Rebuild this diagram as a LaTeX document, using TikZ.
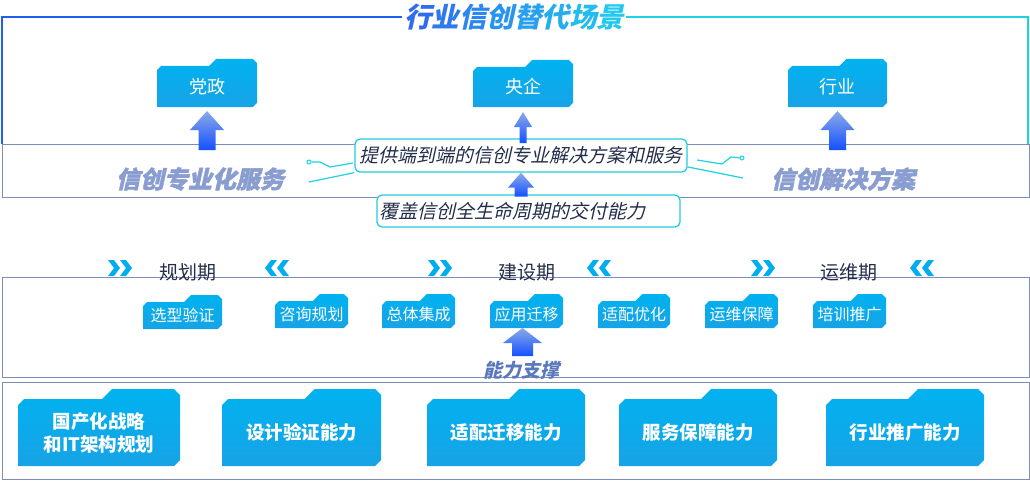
\documentclass[tikz,border=0pt]{standalone}
\usepackage{fontspec}
\setmainfont{Noto Sans CJK SC}
\newfontfamily\cjk{Noto Sans CJK SC}
\newfontfamily\cjkit{Noto Sans CJK SC}[FakeSlant=0.22]
\newfontfamily\cjkheavy{Noto Sans CJK SC}[FakeSlant=0.22, BoldFeatures={FakeBold=1.8}]
\usetikzlibrary{calc}
\definecolor{fA}{HTML}{00B2F0}
\definecolor{fB}{HTML}{17A3E6}
\definecolor{arA}{HTML}{8AAAE8}
\definecolor{arB}{HTML}{1450FF}
\definecolor{frameblue}{HTML}{1F5EF5}
\definecolor{framecyan}{HTML}{1DD3E3}
\definecolor{bandc}{HTML}{7E8DB5}
\definecolor{calc}{HTML}{22CCE0}
\definecolor{chev}{HTML}{00AEEF}
\definecolor{darktxt}{HTML}{242E4A}
\definecolor{graytxt}{HTML}{8A9DD0}
\definecolor{supp}{HTML}{5A78BC}
\definecolor{tA}{HTML}{2F6CF0}
\definecolor{tB}{HTML}{22C8EE}
\tikzset{
  fold/.style={top color=fA, bottom color=fB, draw=none},
  band/.style={draw=bandc, line width=0.9pt},
  callout/.style={draw=calc, line width=1.3pt, rounded corners=5pt, fill=white, inner sep=2pt, text=darktxt},
  circ/.style={draw=framecyan, line width=1.2pt},
  dotc/.style={circle, draw=framecyan, fill=white, line width=1pt, inner sep=0pt, minimum size=4pt},
  arr/.style={top color=arA, bottom color=arB, draw=none},
  phase/.style={text=darktxt, font=\cjk\fontsize{19}{21}\selectfont},
  big/.style={text=graytxt, font=\cjkheavy\bfseries\fontsize{24}{26}\selectfont},
}
% folder: #1 name, #2 x1, #3 y1 (tab top), #4 x2, #5 y2, #6 tab height, #7 font, #8 text
\newcommand\mkfolder[8]{%
  \pgfmathsetmacro\fxa{#2+0.52*(#4-#2)}%
  \pgfmathsetmacro\fyb{#3+#6}%
  \pgfmathsetmacro\fc{0.6*#6}%
  \shade[fold] (#2,\fyb+\fc) -- (#2+\fc,\fyb) -- (\fxa,\fyb) -- (\fxa+#6,#3) -- (#4-\fc,#3) -- (#4,#3+\fc) -- (#4,#5-\fc) -- (#4-\fc,#5) -- (#2,#5) -- cycle;
  \coordinate (#1-b) at ({(#2+#4)/2},#5);
  \node[text=white, font=#7, align=center, inner sep=0pt] (#1) at ({(#2+#4)/2},{(\fyb+#5)/2}) {#8};
}
% block arrow: #1 anchor, #2 tip offset, #3 length, #4 head half, #5 shaft half, #6 head length
\newcommand\blockup[6]{%
  \begin{scope}[shift={#1}]
  \shade[arr] (0,#2) -- (#4,#2+#6) -- (#5,#2+#6) -- (#5,#2+#3) -- (-#5,#2+#3) -- (-#5,#2+#6) -- (-#4,#2+#6) -- cycle;
  \end{scope}}
\newcommand\chevR[2]{%
  \foreach \k in {0,12}{\fill[chev] (#1+\k,#2-8) -- (#1+\k+6,#2-8) -- (#1+\k+12,#2) -- (#1+\k+6,#2+8) -- (#1+\k,#2+8) -- (#1+\k+6,#2) -- cycle;}}
\newcommand\chevL[2]{%
  \foreach \k in {0,12}{\fill[chev] (#1+\k+12,#2-8) -- (#1+\k+6,#2-8) -- (#1+\k,#2) -- (#1+\k+6,#2+8) -- (#1+\k+12,#2+8) -- (#1+\k+6,#2) -- cycle;}}
\begin{document}
\begin{tikzpicture}[x=1pt,y=-1pt]
\useasboundingbox[fill=white] (0,0) rectangle (1030,487);

% ---- title and frame
\node[font=\cjkit\bfseries\fontsize{27.5}{30}\selectfont, inner sep=2pt] (title) at (514,17)
 {\textcolor{tA}{行}\textcolor{tA!86!tB}{业}\textcolor{tA!71!tB}{信}\textcolor{tA!57!tB}{创}\textcolor{tA!43!tB}{替}\textcolor{tA!29!tB}{代}\textcolor{tA!14!tB}{场}\textcolor{tB}{景}};
\coordinate (b1nw) at (2,144);
\coordinate (b1ne) at (1028,144);
\draw[frameblue, line width=2pt] (title.west) -| (b1nw);
\draw[framecyan, line width=2pt] (title.east) -| (b1ne);

% ---- bands
\draw[band, fill=white] (2,144) rectangle (1029,197);
\draw[band] (2,277) rectangle (1029,377);
\draw[band] (2,382) rectangle (1029,479);

% ---- big gray texts
\node[big] (svc) at (200,179) {信创专业化服务};
\node[big] (sol) at (843,179) {信创解决方案};

% ---- top folders
\mkfolder{dz}{157}{59}{257}{107}{7}{\cjk\fontsize{18}{20}\selectfont}{党政}
\mkfolder{yq}{473}{60}{573}{107}{7}{\cjk\fontsize{18}{20}\selectfont}{央企}
\mkfolder{hy}{788}{59}{887}{107}{7}{\cjk\fontsize{18}{20}\selectfont}{行业}

% ---- callouts
\node[callout, minimum width=332pt, minimum height=33pt, font=\cjkit\fontsize{19}{21}\selectfont] (c1) at (521,155.5) {提供端到端的信创专业解决方案和服务};
\node[callout, text width=299pt, minimum height=32pt, align=left, font=\cjkit\fontsize{19}{21}\selectfont] (c2) at (528.5,211) {覆盖信创全生命周期的交付能力};

% ---- circuit lines
\node[dotc] (k1) at (309,162) {};
\coordinate (k1e) at (353,163);
\draw[circ] (k1) -- (320,162) -- (330,167) -- (k1e);
\coordinate (k2) at (309,182);
\draw[circ] (k2) -- (c1.south west);
\node[dotc] (k3) at (742,158) {};
\coordinate (k3s) at (697,160);
\draw[circ] (k3s) -- (722,164) -- (731,157) -- (k3);
\coordinate (k4s) at (688,167);
\coordinate (k4) at (743,178);
\draw[circ] (k4s) -- (k4);

% ---- block arrows
\blockup{(dz-b)}{4}{39}{17}{8.5}{19}
\blockup{(hy-b)}{4}{39}{17}{8.5}{19}
\blockup{(yq-b)}{5}{31}{9}{3.5}{15}
\blockup{(c1.south)}{0}{24}{13}{6.5}{15}

% ---- phases
\node[phase] (p1) at (188,272) {规划期};
\node[phase] (p2) at (527,272) {建设期};
\node[phase] (p3) at (849,272) {运维期};
\chevR{108}{268} \chevL{265}{268}
\chevR{428}{268} \chevL{587}{268}
\chevR{751}{268} \chevL{910}{268}

% ---- small folders
\mkfolder{s1}{143}{295}{222}{329}{7}{\cjk\fontsize{16}{18}\selectfont}{选型验证}
\mkfolder{s2}{275}{294}{348}{328}{7}{\cjk\fontsize{16}{18}\selectfont}{咨询规划}
\mkfolder{s3}{382}{294}{455}{328}{7}{\cjk\fontsize{16}{18}\selectfont}{总体集成}
\mkfolder{s4}{490}{294}{563}{328}{7}{\cjk\fontsize{16}{18}\selectfont}{应用迁移}
\mkfolder{s5}{598}{294}{670}{328}{7}{\cjk\fontsize{16}{18}\selectfont}{适配优化}
\mkfolder{s6}{705}{294}{778}{328}{7}{\cjk\fontsize{16}{18}\selectfont}{运维保障}
\mkfolder{s7}{813}{294}{886}{328}{7}{\cjk\fontsize{16}{18}\selectfont}{培训推广}
\blockup{([xshift=-4pt]s4-b)}{0}{28}{19.5}{10.5}{15}
\node[text=supp, font=\cjkit\bfseries\fontsize{19}{21}\selectfont] (sup) at (521,370) {能力支撑};

% ---- bottom folders
\mkfolder{f1}{18}{389}{180}{466}{10}{\cjk\bfseries\fontsize{18.5}{23}\selectfont}{国产化战略\\和IT架构规划}
\mkfolder{f2}{222}{389}{381}{466}{10}{\cjk\bfseries\fontsize{18.5}{22}\selectfont}{设计验证能力}
\mkfolder{f3}{427}{389}{585}{466}{10}{\cjk\bfseries\fontsize{18.5}{22}\selectfont}{适配迁移能力}
\mkfolder{f4}{619}{389}{777}{466}{10}{\cjk\bfseries\fontsize{18.5}{22}\selectfont}{服务保障能力}
\mkfolder{f5}{826}{389}{984}{466}{10}{\cjk\bfseries\fontsize{18.5}{22}\selectfont}{行业推广能力}
\end{tikzpicture}
\end{document}
